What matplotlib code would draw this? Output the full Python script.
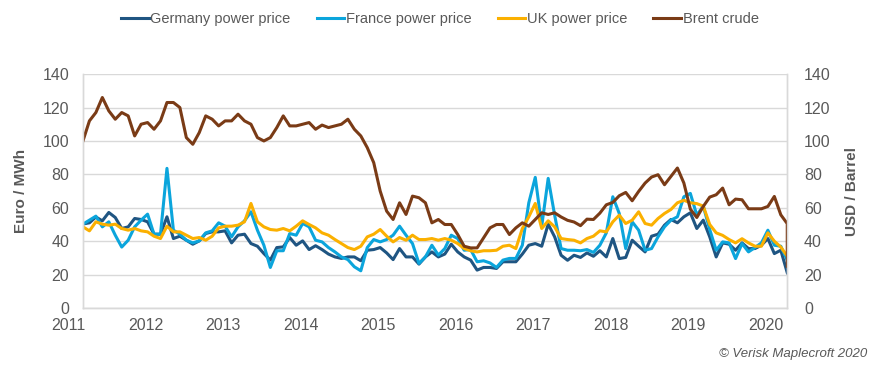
import numpy as np
import pandas as pd
import matplotlib
matplotlib.use("Agg")
import matplotlib.pyplot as plt
import matplotlib.transforms as mtransforms

plt.rcParams['font.family'] = ['Liberation Sans', 'DejaVu Sans']

# monthly series, Jan 2011 - Feb 2020
months = pd.date_range('2011-01-01', periods=110, freq='MS')

germany = [50.3, 51, 54.5, 52.2, 57.2, 54.2, 47.6, 48.6, 53.6, 53,
           51.6, 44.2, 44.2, 54.6, 41.6, 43, 40.6, 38.2, 40.2, 44.6,
           45.6, 45.6, 46.2, 39, 43.6, 44.2, 38.6, 37, 32.6, 28.7,
           36.2, 36.6, 42.2, 37.6, 40.2, 35, 37.3, 35, 32.3, 30.6,
           29.7, 30.6, 30.6, 28.3, 34.6, 35, 36.2, 33, 29, 35.6,
           30.6, 30.6, 26.3, 30.6, 33.6, 30.6, 32.3, 38.2, 33.6, 30.6,
           28.7, 22.7, 24.3, 24.3, 23.7, 27.7, 27.7, 27.7, 32.3, 37.6,
           38.6, 37, 50.2, 42.6, 31.6, 28.6, 31.6, 30.3, 33, 31,
           34.3, 30.6, 41.6, 29.6, 30.3, 40.6, 37, 33.6, 43, 44.2,
           49.6, 53, 51, 54.6, 57, 47.6, 52.6, 42.6, 30.6, 39,
           38.2, 34.6, 39, 35.6, 35.6, 37.6, 41.6, 32.6, 34.6, 21.1]

france = [50.2, 52.6, 55, 48.6, 51.6, 43.6, 36.5, 40.6, 48.6, 52.6,
          56.2, 44.2, 44.2, 83.6, 46.6, 44.2, 40.6, 39, 40.2, 45,
          46.2, 51, 49, 42.6, 48.6, 52.2, 57.6, 46.6, 37.6, 24.3,
          34.3, 34.3, 44.6, 43.6, 50.6, 48.6, 40.6, 39.6, 36.2, 33.6,
          30.6, 29, 24.7, 22.3, 36.2, 41, 39.6, 41, 43.6, 49,
          43.6, 38.6, 26.7, 30.6, 37.6, 31.7, 35.6, 43.6, 41.6, 34.6,
          35, 27.7, 28.3, 27, 24.3, 28.7, 29.7, 29.7, 37.6, 63,
          78.2, 49, 77.6, 55.6, 35.6, 34.6, 34.6, 34.3, 35, 33.3,
          37.6, 45, 66.6, 56.6, 35.6, 51.6, 46.6, 34.6, 35.6, 42.6,
          48.6, 52.6, 54.6, 66.6, 68.6, 55.6, 61, 47, 34.6, 39.6,
          39, 29.6, 38.6, 33.6, 36.2, 39, 46.6, 37.6, 37, 28.6]

uk = [48.6, 46.2, 51.6, 50.2, 49.6, 50.2, 47.6, 46.6, 47.6, 46.2,
      45.6, 43, 41.6, 49, 45.6, 45.6, 43.6, 41.6, 42.2, 40.6,
      43, 48, 49, 49, 49.6, 51.6, 62.6, 51.6, 48.6, 47,
      46.6, 47.6, 46.2, 49, 52.2, 50, 48, 45, 43.6, 41,
      38.6, 36.2, 35, 37, 42.6, 44.2, 47, 43, 39.6, 42.2,
      40.6, 43.6, 41, 41, 41.6, 40.6, 41.6, 40.6, 38.6, 35.6,
      34.3, 33.6, 34.3, 34.3, 34.6, 37, 37.6, 35.6, 47.6, 54.6,
      62.6, 47.6, 52.2, 48.6, 41.6, 41, 40.6, 39, 41.6, 43,
      46.2, 45.6, 51.6, 55.6, 50.6, 52.6, 57.6, 50.6, 49.6, 53.6,
      56.6, 59, 63, 64.5, 63, 62.5, 61, 50, 45, 43.5,
      41, 39, 41.5, 39, 37, 37, 45, 40, 36.5, 31]

# last Brent value is a late spot print on the final month
brent = [100, 112, 117, 126, 118, 113, 117, 115, 103, 110,
         111, 107, 112, 123, 123, 120, 102, 98, 105, 115,
         113, 109, 112, 112, 116, 112, 110, 102, 100, 102,
         108, 115, 109, 109, 110, 111, 107, 109.5, 108, 109,
         110, 113, 107, 103, 96, 87, 70, 58, 53, 63,
         56, 67, 66, 63, 51, 53, 50, 50, 44, 37,
         36, 36, 42, 48, 50, 50, 44, 48, 51, 49,
         53, 57, 56, 57, 54.5, 52.5, 51.5, 49.3, 53.2, 53,
         56.8, 61.8, 63.2, 67.2, 69.2, 64.2, 69.8, 74.8, 78.4, 79.8,
         73.8, 78.8, 83.8, 74.8, 59.2, 54.2, 60.8, 66.4, 67.8, 71.8,
         61.8, 65.2, 64.8, 59.4, 59.4, 59.4, 60.8, 66.8, 55.8, 50.5,
         25]

years = [str(y) for y in range(2011, 2021)]

grey = '#595959'
t = np.arange(len(months))
brent_t = np.append(t, t[-1])

fig = plt.figure(figsize=(8.76, 3.65), dpi=100)
ax = fig.add_axes([0.0947, 0.156, 0.804, 0.641])
ax2 = ax.twinx()

l1, = ax.plot(t, germany, color='#1f5582', lw=2.2, label='Germany power price')
l2, = ax.plot(t, france, color='#0ba5dc', lw=2.2, label='France power price')
l3, = ax.plot(t, uk, color='#fbb000', lw=2.2, label='UK power price')
l4, = ax2.plot(brent_t, brent, color='#7a3b16', lw=2.2, label='Brent crude')

for a in (ax, ax2):
    a.set_ylim(0, 140)
    a.set_yticks(range(0, 141, 20))
    a.set_xlim(t[0], t[-1])
    for s in a.spines.values():
        s.set_color('#d9d9d9')
        s.set_linewidth(1)
    a.spines['top'].set_visible(False)

ax.grid(axis='y', color='#d9d9d9', lw=1)
ax.set_axisbelow(True)
ax.set_xticks([])
ax.tick_params(axis='y', length=0, pad=10, labelsize=11.5, labelcolor=grey)
ax2.tick_params(axis='y', length=0, pad=12, labelsize=11.5, labelcolor=grey)

ax.set_ylabel('Euro / MWh', fontsize=11, fontweight='bold', color=grey)
ax.yaxis.set_label_coords(-0.078, 0.5)
ax2.set_ylabel('USD / Barrel', fontsize=11, fontweight='bold', color=grey,
               rotation=90)
ax2.yaxis.set_label_coords(1.082, 0.5)

# year labels sit a little left of each January
trans = mtransforms.blended_transform_factory(ax.transData, ax.transAxes)
for k, y in enumerate(years):
    ax.text(12 * k - 2.3, -0.073, y, transform=trans, ha='center', va='center',
            fontsize=11.5, color=grey, clip_on=False)

fig.legend(handles=[l1, l2, l3, l4], loc='center', bbox_to_anchor=(0.502, 0.948),
           ncol=4, frameon=False, fontsize=10.5, handlelength=1.9,
           handletextpad=0.1, columnspacing=1.8, labelcolor=grey)

fig.text(0.99, 0.03, '\u00a9 Verisk Maplecroft 2020', ha='right', va='center',
         fontsize=9.5, style='italic', color=grey)

fig.savefig('out.png', dpi=100)
